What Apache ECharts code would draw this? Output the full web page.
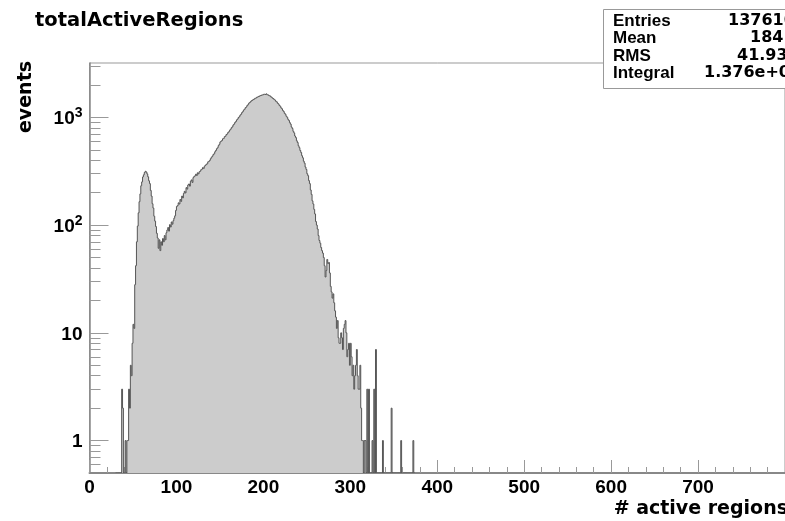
<!DOCTYPE html>
<html>
<head>
<meta charset="utf-8">
<script src="https://cdn.jsdelivr.net/npm/echarts@6/dist/echarts.min.js"></script>
<style>html,body{margin:0;padding:0;background:#fff}#c{width:785px;height:521px}</style>
</head>
<body>
<div id="c"></div>
<script>
// ---- data ----
const firstBin = 30;               // lower edge of the first bin (bin width 1)
const counts = [
  0,0,0,0,0,0,0,3,2,0,                 // 30-39
  0,1,0,1,1,3,2,5,4,8,                 // 40-49
  12,11,28,42,70,98,130,165,195,232,   // 50-59
  252,280,293,308,316,311,299,281,258,243,
  210,186,158,144,121,109,97,84,76,61,
  73,58,70,65,75,70,80,73,85,90,
  95,88,101,96,107,102,110,116,122,137,
  149,152,161,157,173,166,186,179,197,206,   // 100
  199,223,216,236,241,230,256,263,249,276,
  283,287,297,289,306,299,313,317,327,331,
  342,336,353,359,367,371,387,391,399,414,
  427,436,452,460,480,493,512,523,547,563,
  592,601,610,633,638,662,669,693,702,725,   // 150
  737,761,777,803,819,852,868,898,915,948,
  966,998,1016,1051,1071,1109,1131,1170,1190,1230,
  1250,1290,1314,1355,1375,1402,1430,1441,1468,1476,
  1503,1510,1536,1543,1566,1571,1594,1597,1618,1615,
  1637,1641,1632,1655,1624,1619,1596,1589,1555,1545, // 200
  1511,1499,1466,1449,1412,1395,1355,1335,1292,1270,
  1227,1203,1160,1135,1092,1070,1025,1003,960,937,
  895,866,815,790,743,718,672,650,607,585,
  546,524,493,472,441,422,392,376,346,329,
  300,288,259,243,212,193,168,157,140,127,   // 250
  108,100,92,80,72,68,62,58,55,50,
  42,33,38,48,44,45,36,27,24,21,
  23,19,16,14,11,13,9,8,8,10,
  9,7,11,12,13,10,6,7,8,5,
  8,6,4,5,3,4,5,7,4,3,                 // 300
  3,5,2,1,1,0,1,1,0,3,
  0,3,0,0,0,1,0,3,0,7,
  0,0,0,0,0,0,0,1,0,0,
  0,0,0,0,0,0,0,2,0,0,
  0,0,0,0,0,0,0,0,1,0,                 // 350
  0,0,0,0,0,0,0,0,0,0,
  0,0,1,0
];
const xMin = 0, xMax = 800, xStep = 100;
const yMin = 0.5, yMax = 3200;
const yMajor = [1, 10, 100, 1000];
const yMinor = [0.6,0.7,0.8,0.9, 2,3,4,5,6,7,8,9, 20,30,40,50,60,70,80,90,
                200,300,400,500,600,700,800,900, 2000,3000];
const statLabels = ['Entries', 'Mean', 'RMS', 'Integral'];
const statValues = ['137610', '184.4', '41.93', '1.376e+05'];

// ---- chart ----
const chart = echarts.init(document.getElementById('c'), null, {renderer: 'canvas'});
const tickFont = 'Liberation Sans, Arial, sans-serif';
const titleFont = 'DejaVu Sans, sans-serif';

function yLabel(v) {
  const e = Math.round(Math.log10(v));
  if (e === 0) return '{b|1}';
  if (e === 1) return '{b|10}';
  return '{b|10}{s|' + e + '}';
}

const statY = [21, 38, 56, 73];
const statValX = [728, 750, 737, 704];
const statGraphics = [{
  type: 'rect', shape: {x: 603.5, y: 9.5, width: 220, height: 79},
  style: {fill: '#fff', stroke: '#999', lineWidth: 1}, z: 100
}];
statLabels.forEach((t, i) => {
  statGraphics.push({type: 'text', x: 613, y: statY[i], z: 101,
    style: {text: t, fill: '#000', font: 'bold 17px Liberation Sans', textVerticalAlign: 'middle'}});
  statGraphics.push({type: 'text', x: statValX[i], y: statY[i], z: 101,
    style: {text: statValues[i], fill: '#000', font: 'bold 16px DejaVu Sans', textVerticalAlign: 'middle'}});
});

const option = {
  backgroundColor: '#fff',
  animation: false,
  title: {
    text: 'totalActiveRegions', left: 35, top: 11, padding: 0,
    textStyle: {fontFamily: titleFont, fontWeight: 'bold', fontSize: 19.5, color: '#000'}
  },
  grid: {left: 89.5, top: 63, width: 698.5, height: 410, show: true,
         borderColor: '#999', borderWidth: 1, backgroundColor: 'transparent'},
  xAxis: {
    type: 'value', min: xMin, max: xMax, interval: xStep,
    axisLine: {show: true, onZero: false, lineStyle: {color: '#888', width: 2}},
    axisTick: {show: true, inside: true, length: 13, lineStyle: {color: '#999'}},
    minorTick: {show: true, splitNumber: 5, length: 6, lineStyle: {color: '#999'}},
    splitLine: {show: false},
    axisLabel: {margin: 5, fontSize: 19, fontWeight: 'bold', color: '#000',
                fontFamily: tickFont, showMaxLabel: false}
  },
  yAxis: [{
    type: 'log', logBase: 10, min: yMin, max: yMax,
    axisLine: {show: true, lineStyle: {color: '#888', width: 1.5}},
    axisTick: {show: true, inside: true, length: 19, customValues: yMajor, lineStyle: {color: '#999'}},
    splitLine: {show: false},
    axisLabel: {
      customValues: yMajor, margin: 7, formatter: yLabel,
      rich: {
        b: {fontSize: 19, fontWeight: 'bold', color: '#000', fontFamily: tickFont, lineHeight: 22, verticalAlign: 'bottom'},
        s: {fontSize: 14, fontWeight: 'bold', color: '#000', fontFamily: tickFont, lineHeight: 22, verticalAlign: 'top'}
      }
    }
  }, {
    type: 'log', logBase: 10, min: yMin, max: yMax, position: 'left',
    axisLine: {show: false},
    axisTick: {show: true, inside: true, length: 11, customValues: yMinor, lineStyle: {color: '#999'}},
    axisLabel: {show: false},
    splitLine: {show: false}
  }],
  graphic: [
    {type: 'text', x: 26, y: 97, rotation: Math.PI / 2,
     style: {text: 'events', fill: '#000', font: 'bold 19px DejaVu Sans', textAlign: 'center', textVerticalAlign: 'middle'}},
    {type: 'text', x: 788, y: 509,
     style: {text: '# active regions', fill: '#000', font: 'bold 19px DejaVu Sans', textAlign: 'right', textVerticalAlign: 'middle'}},
    ...statGraphics
  ],
  series: [{
    type: 'custom',
    xAxisIndex: 0, yAxisIndex: 0,
    data: [[firstBin, 1]],
    clip: true,
    renderItem: function (params, api) {
      const cs = params.coordSys;
      const bottom = cs.y + cs.height;
      const xOf = b => api.coord([b, 1])[0];
      const yOf = c => c > 0 ? Math.max(cs.y, api.coord([firstBin, c])[1]) : bottom;
      const pts = [[xOf(firstBin), bottom]];
      for (let i = 0; i < counts.length; i++) {
        const y = yOf(counts[i]);
        pts.push([xOf(firstBin + i), y], [xOf(firstBin + i + 1), y]);
      }
      pts.push([xOf(firstBin + counts.length), bottom]);
      return {
        type: 'group',
        children: [
          {type: 'polygon', shape: {points: pts}, style: {fill: '#cccccc', stroke: null}},
          {type: 'polyline', shape: {points: pts}, style: {stroke: '#555', lineWidth: 1, fill: null}}
        ]
      };
    }
  }]
};
chart.setOption(option);
</script>
</body>
</html>
